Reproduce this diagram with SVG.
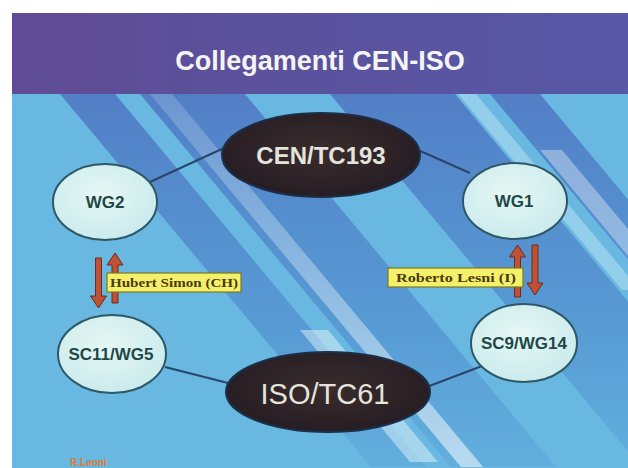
<svg xmlns="http://www.w3.org/2000/svg" width="628" height="468" viewBox="0 0 628 468">
<defs>
<style>
.small ellipse{fill:url(#gSmall);stroke:#2e5866;stroke-width:2}
.small text{font-family:"Liberation Sans",Arial,sans-serif;font-weight:bold;font-size:17px;fill:#1f4848;text-anchor:middle}
.big ellipse{fill:url(#gBig);stroke:#1d2f48;stroke-width:2}
.big text{font-family:"Liberation Sans",Arial,sans-serif;fill:#e4e4dc;text-anchor:middle}
.conn line{stroke:#29466a;stroke-width:2}
.arr{fill:#bd5236;stroke:#6e2a1c;stroke-width:1}
.lab rect{fill:#f4f06a;stroke:#7a7a20;stroke-width:1.2}
.lab text{font-family:"Liberation Serif","Times New Roman",serif;font-weight:bold;font-size:13px;fill:#4a3a10}
</style>
<radialGradient id="gSmall" cx="0.45" cy="0.4" r="0.7">
<stop offset="0" stop-color="#e6f7f4"/>
<stop offset="1" stop-color="#c7e9ec"/>
</radialGradient>
<radialGradient id="gBig" cx="0.5" cy="0.45" r="0.6">
<stop offset="0" stop-color="#3a2c2e"/>
<stop offset="1" stop-color="#241c22"/>
</radialGradient>
<linearGradient id="gTitle" x1="0" y1="0" x2="1" y2="0">
<stop offset="0" stop-color="#5f4c94"/>
<stop offset="0.5" stop-color="#5a529e"/>
<stop offset="1" stop-color="#5858a6"/>
</linearGradient>
<linearGradient id="gDark" gradientUnits="userSpaceOnUse" x1="0" y1="94" x2="0" y2="468">
<stop offset="0" stop-color="#4458b4" stop-opacity="0.6"/>
<stop offset="0.6" stop-color="#3e6cc0" stop-opacity="0.4"/>
<stop offset="1" stop-color="#3e78c6" stop-opacity="0.15"/>
</linearGradient>
<linearGradient id="gLight" gradientUnits="userSpaceOnUse" x1="0" y1="94" x2="0" y2="468">
<stop offset="0" stop-color="#d8f0fa" stop-opacity="0.2"/>
<stop offset="1" stop-color="#ffffff" stop-opacity="0.55"/>
</linearGradient>
<clipPath id="body"><rect x="12" y="94" width="616" height="374"/></clipPath>
</defs>
<rect width="628" height="468" fill="#ffffff"/>
<rect x="12" y="13" width="616" height="82" fill="url(#gTitle)"/>
<text x="320" y="70" font-family="'Liberation Sans',Arial,sans-serif" font-weight="bold" font-size="27" fill="#f4f4f4" text-anchor="middle">Collegamenti CEN-ISO</text>
<rect x="12" y="94" width="616" height="374" fill="#68b8e1"/>
<g clip-path="url(#body)">
<polygon points="60,94 115,94 426,467 371,467" fill="url(#gDark)"/>
<polygon points="140,94 245,94 556,467 451,467" fill="url(#gDark)"/>
<polygon points="330,94 455,94 766,467 641,467" fill="url(#gDark)"/>
<polygon points="490,94 540,94 851,467 801,467" fill="url(#gDark)"/>
<polygon points="150,94 172,94 483,467 461,467" fill="url(#gLight)"/>
<polygon points="300,330 328,330 438,462 410,462" fill="#f0fbff" opacity="0.45"/>
<polygon points="458,94 476,94 640,290 622,290" fill="#e6f6fc" opacity="0.35"/>
<polygon points="540,150 562,150 628,229 628,256" fill="#ffffff" opacity="0.35"/>
</g>
<g class="conn">
<line x1="150" y1="182" x2="224" y2="148"/>
<line x1="418" y1="150" x2="470" y2="173"/>
<line x1="165" y1="367" x2="228" y2="383"/>
<line x1="424" y1="388" x2="482" y2="366"/>
</g>
<g id="CEN-TC193" class="big">
<ellipse cx="321" cy="155" rx="99" ry="42"/>
<text x="321" y="164" font-size="24" font-weight="bold">CEN/TC193</text>
</g>
<g id="ISO-TC61" class="big">
<ellipse cx="328" cy="392" rx="102" ry="40"/>
<text x="325" y="404" font-size="29">ISO/TC61</text>
</g>
<g id="WG2" class="small">
<ellipse cx="105" cy="202" rx="52" ry="38"/>
<text x="105" y="208">WG2</text>
</g>
<g id="WG1" class="small">
<ellipse cx="515" cy="201" rx="52" ry="38"/>
<text x="514" y="207">WG1</text>
</g>
<g id="SC11-WG5" class="small">
<ellipse cx="112" cy="354" rx="54" ry="39"/>
<text x="111" y="360">SC11/WG5</text>
</g>
<g id="SC9-WG14" class="small">
<ellipse cx="524" cy="343" rx="53" ry="39"/>
<text x="524" y="349">SC9/WG14</text>
</g>
<g id="arrows-left">
<path class="arr" d="M95.5,258 h6 v38 h5 l-8,12 l-8,-12 h5 z"/>
<path class="arr" d="M112,303 h6 v-38 h5 l-8,-12 l-8,12 h5 z"/>
</g>
<g id="arrows-right">
<path class="arr" d="M514.5,297 h6 v-40 h5 l-8,-12 l-8,12 h5 z"/>
<path class="arr" d="M532,245 h6 v38 h5 l-8,12 l-8,-12 h5 z"/>
</g>
<g id="label-simon" class="lab">
<rect x="107" y="273" width="134" height="19"/>
<text x="110" y="287" textLength="128" lengthAdjust="spacingAndGlyphs">Hubert Simon (CH)</text>
</g>
<g id="label-lesni" class="lab">
<rect x="388" y="268" width="135" height="19"/>
<text x="396" y="282" textLength="120" lengthAdjust="spacingAndGlyphs">Roberto Lesni  (I)</text>
</g>
<text x="70" y="466" font-family="'Liberation Sans',Arial,sans-serif" font-weight="bold" font-size="10" fill="#e07a30">R.Leoni</text>
</svg>
